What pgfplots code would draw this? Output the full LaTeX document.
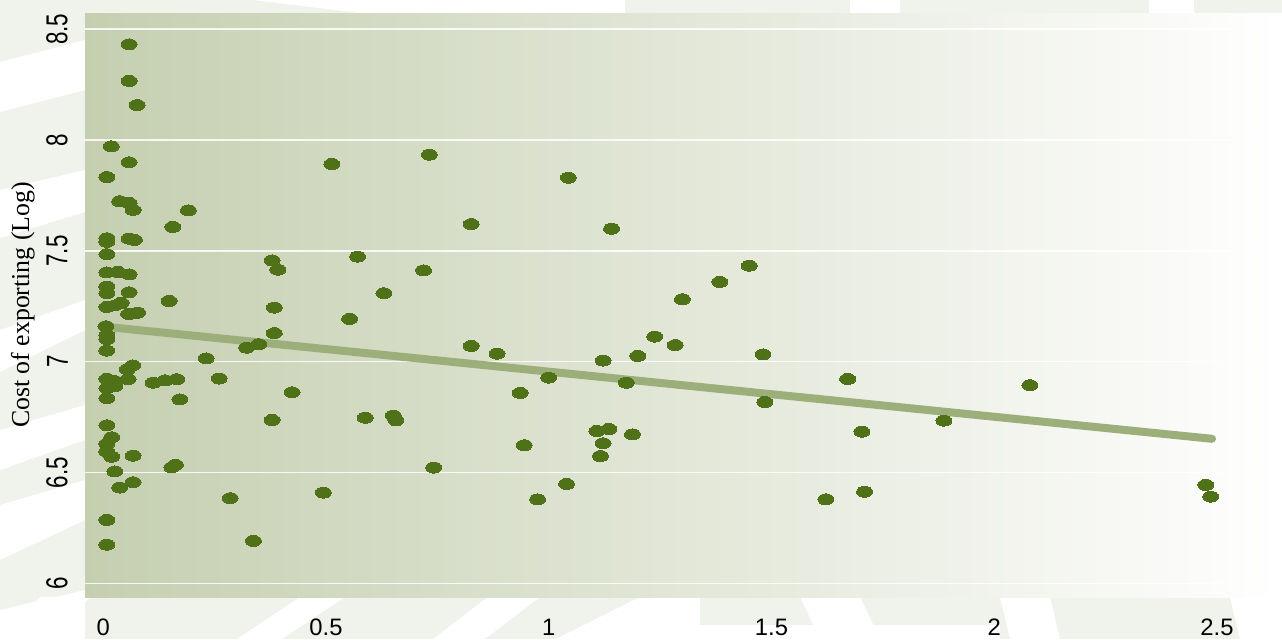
\documentclass[border=0pt]{standalone}
\usepackage{fontspec}
\setmainfont{Liberation Sans}
\newfontfamily\seriffont{Liberation Serif}
\usepackage{pgfplots}
\pgfplotsset{compat=1.18}
\definecolor{bggray}{RGB}{240,243,235}
\definecolor{plotleft}{RGB}{197,207,176}
\definecolor{dotgreen}{RGB}{79,114,24}
\definecolor{trend}{RGB}{156,175,122}
\begin{document}
\begin{tikzpicture}
\path[use as bounding box, fill=bggray] (0,0) rectangle (641pt,319.5pt);
% decorative page background (pixel coordinates)
\begin{scope}[x=0.5pt, y=-0.5pt, yshift=319.5pt]
  \fill[white] (253,0) -- (625,0) -- (625,14) -- (368,14) -- cycle;
  \fill[white] (850,0) -- (900,0) -- (900,14) -- (850,14) -- cycle;
  \fill[white] (1149,0) -- (1194,0) -- (1194,14) -- (1149,14) -- cycle;
  % left strip swooshes
  \fill[white] (0,62) -- (85,40) -- (85,90) -- (0,112) -- cycle;
  \fill[white] (0,190) -- (85,170) -- (85,212) -- (0,238) -- cycle;
  \fill[white] (0,330) -- (85,300) -- (85,330) -- (0,372) -- cycle;
  \fill[white] (0,430) -- (85,405) -- (85,440) -- (0,470) -- cycle;
  \fill[white] (0,505) -- (85,480) -- (85,520) -- (0,560) -- cycle;
  \fill[white] (0,610) -- (85,590) -- (85,639) -- (0,639) -- cycle;
  % bottom strip diagonal bands
  \fill[white] (0,639) -- (40,597) -- (90,597) -- (50,639) -- cycle;
  \fill[white] (237,639) -- (300,597) -- (345,597) -- (282,639) -- cycle;
  \fill[white] (433,639) -- (488,597) -- (540,597) -- (485,639) -- cycle;
  \fill[white] (556,639) -- (640,597) -- (700,597) -- (700,639) -- cycle;
  \fill[white] (700,639) -- (700,625) -- (1000,625) -- (1000,639) -- cycle;
  \fill[white] (800,597) -- (860,597) -- (880,639) -- (820,639) -- cycle;
  \fill[white] (1000,597) -- (1050,597) -- (1060,639) -- (1010,639) -- cycle;
  \fill[white] (1230,597) -- (1282,597) -- (1282,639) -- (1240,639) -- cycle;
\end{scope}
\begin{axis}[
  at={(42.5pt,20.65pt)}, anchor=south west,
  scale only axis, width=598.5pt, height=291.85pt,
  xmin=-0.041, xmax=2.646, ymin=5.935, ymax=8.569,
  xtick={0,0.5,1,1.5,2,2.5}, ytick={6,6.5,7,7.5,8,8.5},
  axis line style={draw=none}, major tick length=0pt,
  ymajorgrids, grid style={white, line width=0.8pt, opacity=0.85},
  axis background/.style={left color=plotleft, right color=white},
  tick label style={font=\fontsize{11.9}{12}\selectfont, inner sep=0pt},
  xticklabel style={anchor=north},
  xticklabel shift=10.3pt,
  yticklabel style={rotate=90, anchor=south, yscale=1.35, font=\fontsize{11.2}{12}\selectfont},
  yticklabel shift=8.35pt,
  /pgf/number format/assume math mode=true,
]
\addplot[only marks, color=dotgreen, mark=*, mark size=2.75pt,
  mark options={xscale=1.45, fill=dotgreen, draw=dotgreen, line width=0pt}] table {
x y
0.058 8.432
0.058 8.267
0.076 8.158
0.018 7.972
0.058 7.900
0.008 7.833
0.037 7.724
0.058 7.716
0.067 7.685
0.191 7.683
0.156 7.608
0.008 7.557
0.008 7.541
0.058 7.555
0.070 7.549
0.008 7.485
0.379 7.457
0.392 7.415
0.571 7.474
0.008 7.403
0.033 7.405
0.058 7.394
0.008 7.339
0.008 7.309
0.058 7.313
0.630 7.309
0.148 7.274
0.008 7.247
0.026 7.254
0.040 7.265
0.384 7.244
0.553 7.193
0.057 7.215
0.077 7.221
0.006 7.160
0.008 7.120
0.008 7.102
0.384 7.129
0.008 7.050
0.322 7.063
0.349 7.079
0.231 7.015
0.066 6.983
0.054 6.965
0.008 6.922
0.026 6.912
0.056 6.921
0.008 6.880
0.026 6.889
0.112 6.905
0.139 6.916
0.165 6.921
0.260 6.924
0.008 6.835
0.172 6.830
0.424 6.862
0.008 6.713
0.379 6.737
0.588 6.747
0.651 6.757
0.657 6.735
0.019 6.659
0.008 6.629
0.008 6.594
0.019 6.571
0.067 6.576
0.026 6.505
0.162 6.534
0.154 6.523
0.067 6.456
0.037 6.432
0.285 6.384
0.494 6.409
0.008 6.286
0.337 6.191
0.008 6.174
0.513 7.892
0.732 7.934
1.044 7.830
0.826 7.621
1.141 7.600
0.719 7.412
1.450 7.433
1.384 7.360
1.300 7.282
0.826 7.071
0.884 7.036
1.238 7.113
1.284 7.075
1.122 7.005
1.200 7.026
1.481 7.033
1.000 6.928
1.174 6.905
0.936 6.859
1.485 6.818
1.108 6.687
1.135 6.696
1.122 6.632
1.188 6.672
0.945 6.623
1.116 6.574
0.742 6.522
1.040 6.448
0.975 6.379
1.622 6.379
1.671 6.922
1.703 6.684
1.887 6.734
2.080 6.894
1.709 6.413
2.475 6.444
2.486 6.391
};
\addplot[no marks, line width=4pt, color=trend, line cap=round] coordinates {(0.008,7.157) (2.489,6.652)};
\end{axis}
\node[rotate=90, anchor=base, font=\seriffont\fontsize{12.9}{14}\selectfont] at (14.5pt,167pt) {Cost of exporting (Log)};
\end{tikzpicture}
\end{document}
